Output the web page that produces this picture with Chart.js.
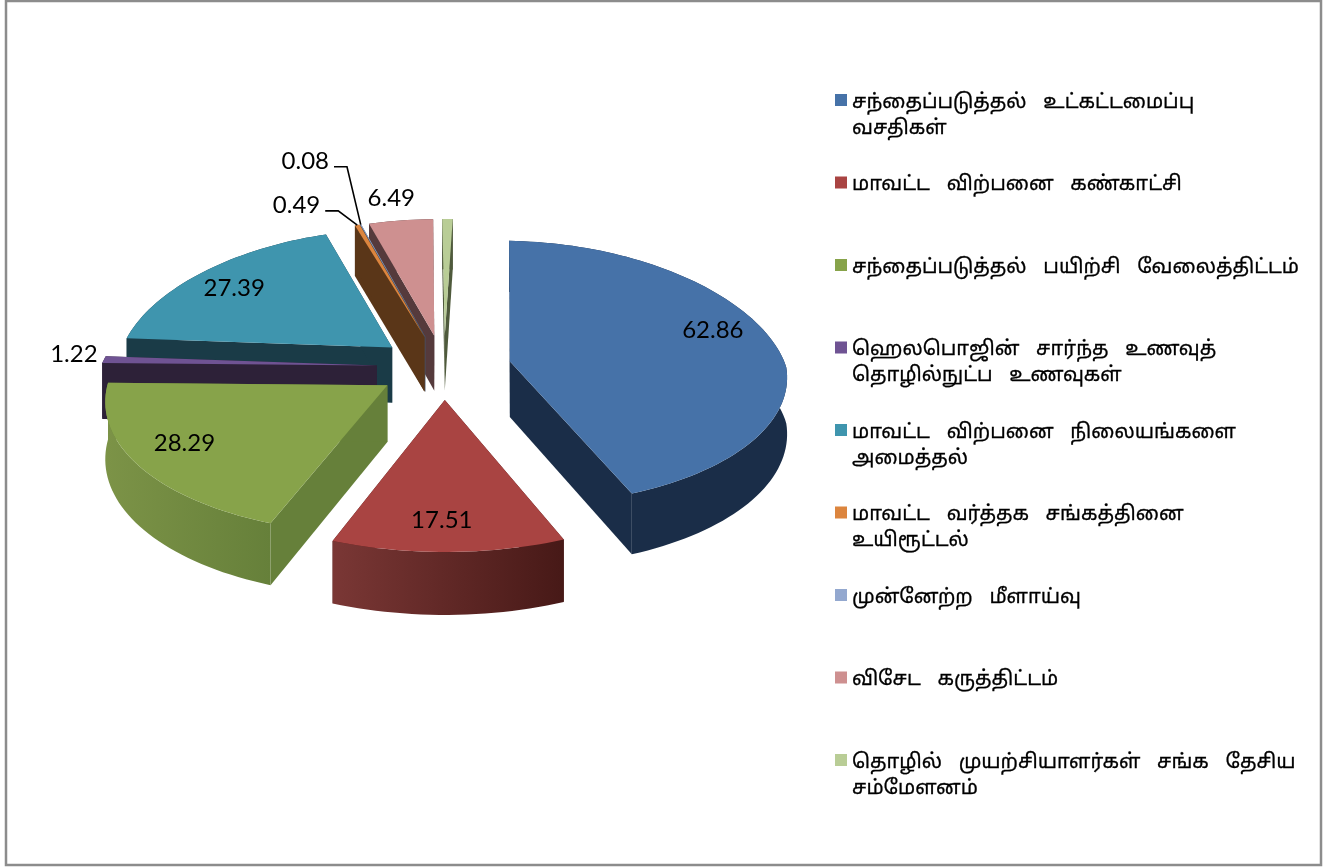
<!DOCTYPE html>
<html>
<head>
<meta charset="utf-8">
<script src="https://cdn.jsdelivr.net/npm/chart.js@4"></script>
<style>
    html, body { margin: 0; padding: 0; background: #fff; overflow: hidden; }
    canvas { display: block; }
</style>
</head>
<body>
<canvas id="pie" width="1338" height="867"></canvas>
<script>
// values (the last slice has no label, estimated from its width)
const categories = [
    ["சந்தைப்படுத்தல் உட்கட்டமைப்பு", "வசதிகள்"],
    ["மாவட்ட விற்பனை கண்காட்சி"],
    ["சந்தைப்படுத்தல் பயிற்சி வேலைத்திட்டம்"],
    ["ஹெலபொஜின் சார்ந்த உணவுத்", "தொழில்நுட்ப உணவுகள்"],
    ["மாவட்ட விற்பனை நிலையங்களை", "அமைத்தல்"],
    ["மாவட்ட வர்த்தக சங்கத்தினை", "உயிரூட்டல்"],
    ["முன்னேற்ற மீளாய்வு"],
    ["விசேட கருத்திட்டம்"],
    ["தொழில் முயற்சியாளர்கள் சங்க தேசிய", "சம்மேளனம்"]
];
const values = [62.86, 17.51, 28.29, 1.22, 27.39, 0.49, 0.08, 6.49, 1.05];
const valueLabels = ["62.86", "17.51", "28.29", "1.22", "27.39", "0.49", "0.08", "6.49", ""];

const topColors = ["#4672a8", "#a94442", "#87a34a", "#6f5393", "#3f95ae", "#dc853e", "#93a8cf", "#ce9090", "#b9cd96"];
const rimLeft = ["#1a2d48", "#7a3735", "#7c9347", "#2d2138", "#1a3b47", "#5a3618", "#46536a", "#553a3c", "#4f5a3c"];
const rimRight = ["#1a2d48", "#471917", "#66803a", "#2d2138", "#1a3b47", "#5a3618", "#46536a", "#553a3c", "#4f5a3c"];
const sideColors = ["#1a2d48", "#471917", "#66803a", "#2d2138", "#1a3b47", "#5a3618", "#46536a", "#553a3c", "#4f5a3c"];

// label position relative to the slice tip, in pixels
const labelShift = [[203, -31], [-3, 120], [-203, 58], [-303, -11], [-158, -59], [-128, -132], [-120, -176], [-43, -138], [0, 0]];
// leader lines only for the two thin slices
const leaders = {5: true, 6: true};

const SQUASH = 0.474, PERSP = 0.089, X_NEAR = 0.10, X_FAR = 0.16, X_BASE = 0.99, DEPTH = 56;

function project(chart, u, v, h) {
    const first = chart.getDatasetMeta(0).data[0];
    const R = first.outerRadius;
    const scale = 1 / (1 - PERSP * v / R);
    const xScale = X_BASE / (1 - (v > 0 ? X_NEAR : X_FAR) * v / R);
    return {
        x: first.x + u * xScale,
        y: first.y + v * SQUASH * scale + (h || 0) * scale
    };
}

function sliceOutline(arc) {
    // tip and rim of the slice, in the flat plane of the pie
    const off = (arc.options.offset || 0) / 4;
    const mid = (arc.startAngle + arc.endAngle) / 2;
    const ox = Math.cos(mid) * off, oy = Math.sin(mid) * off;
    const pts = [{u: ox, v: oy}];
    const steps = Math.max(2, Math.ceil((arc.endAngle - arc.startAngle) / 0.03));
    for (let i = 0; i <= steps; i++) {
        const a = arc.startAngle + (arc.endAngle - arc.startAngle) * i / steps;
        pts.push({u: ox + Math.cos(a) * arc.outerRadius, v: oy + Math.sin(a) * arc.outerRadius});
    }
    return pts;
}

function fillPath(ctx, points, style) {
    ctx.beginPath();
    points.forEach((p, k) => k ? ctx.lineTo(p.x, p.y) : ctx.moveTo(p.x, p.y));
    ctx.closePath();
    ctx.fillStyle = style;
    ctx.fill();
}

const pie3d = {
    id: "pie3d",
    beforeDatasetsDraw(chart) {
        const ctx = chart.ctx;
        const arcs = chart.getDatasetMeta(0).data;
        for (let i = arcs.length - 1; i >= 0; i--) {
            const pts = sliceOutline(arcs[i]);
            const topP = pts.map(p => project(chart, p.u, p.v, 0));
            const lowP = pts.map(p => project(chart, p.u, p.v, DEPTH));
            const last = pts.length - 1;
            // the two straight walls, then the curved one over them, then the top
            fillPath(ctx, [topP[0], topP[1], lowP[1], lowP[0]], sideColors[i]);
            fillPath(ctx, [topP[0], topP[last], lowP[last], lowP[0]], sideColors[i]);
            const rimTop = topP.slice(1), rimLow = lowP.slice(1).reverse();
            const xs = rimTop.map(p => p.x);
            const grad = ctx.createLinearGradient(Math.min(...xs), 0, Math.max(...xs) + 0.01, 0);
            grad.addColorStop(0, rimLeft[i]);
            grad.addColorStop(1, rimRight[i]);
            fillPath(ctx, rimTop.concat(rimLow), grad);
            fillPath(ctx, topP, arcs[i].options.backgroundColor);
        }
        return false;
    },
    afterDraw(chart) {
        const ctx = chart.ctx;
        const arcs = chart.getDatasetMeta(0).data;
        ctx.save();
        ctx.font = "24px Lato, Carlito, sans-serif";
        ctx.fillStyle = "#000";
        ctx.textAlign = "center";
        ctx.textBaseline = "middle";
        arcs.forEach((arc, i) => {
            if (!valueLabels[i]) return;
            const pts = sliceOutline(arc);
            const tip = project(chart, pts[0].u, pts[0].v, 0);
            const lx = tip.x + labelShift[i][0], ly = tip.y + labelShift[i][1];
            ctx.fillText(valueLabels[i], lx, ly);
            if (leaders[i]) {
                const rim = pts[1 + Math.floor((pts.length - 1) / 2)];
                const end = project(chart, rim.u, rim.v, 0);
                const startX = lx + ctx.measureText(valueLabels[i]).width / 2 + 5;
                ctx.beginPath();
                ctx.moveTo(startX, ly + 6);
                ctx.lineTo(startX + 13, ly + 6);
                ctx.lineTo(end.x, end.y);
                ctx.strokeStyle = "#000";
                ctx.lineWidth = 1.6;
                ctx.stroke();
            }
        });
        ctx.restore();
    }
};

const legendRight = {
    id: "legendRight",
    afterDraw(chart) {
        const ctx = chart.ctx;
        ctx.save();
        ctx.font = "20px 'Noto Sans', 'Noto Sans Tamil', Lato, sans-serif";
        ctx.wordSpacing = "11.5px";
        ctx.textBaseline = "middle";
        ctx.strokeStyle = "#000";
        ctx.lineWidth = 0.3;
        categories.forEach((lines, i) => {
            const y = 100 + i * 82.5;
            ctx.fillStyle = topColors[i];
            ctx.fillRect(835, y - 6, 12, 12);
            ctx.fillStyle = "#000";
            lines.forEach((line, k) => {
                ctx.fillText(line, 852, y + 2 + k * 26);
                ctx.strokeText(line, 852, y + 2 + k * 26);
            });
        });
        // outer frame of the picture
        ctx.strokeStyle = "#8c8c8c";
        ctx.lineWidth = 2.5;
        ctx.strokeRect(6, 1, 1315, 864);
        ctx.restore();
    }
};

new Chart(document.querySelector("#pie"), {
    type: "pie",
    data: {
        labels: categories.map(c => c.join(" ")),
        datasets: [{
            data: values,
            backgroundColor: topColors,
            borderWidth: 0,
            offset: 272
        }]
    },
    options: {
        responsive: false,
        animation: false,
        radius: 279,
        rotation: 2,
        layout: {padding: {left: 0, right: 450, top: 0, bottom: 133}},
        plugins: {
            legend: {display: false},
            tooltip: {enabled: false}
        }
    },
    plugins: [pie3d, legendRight]
});
</script>
</body>
</html>
